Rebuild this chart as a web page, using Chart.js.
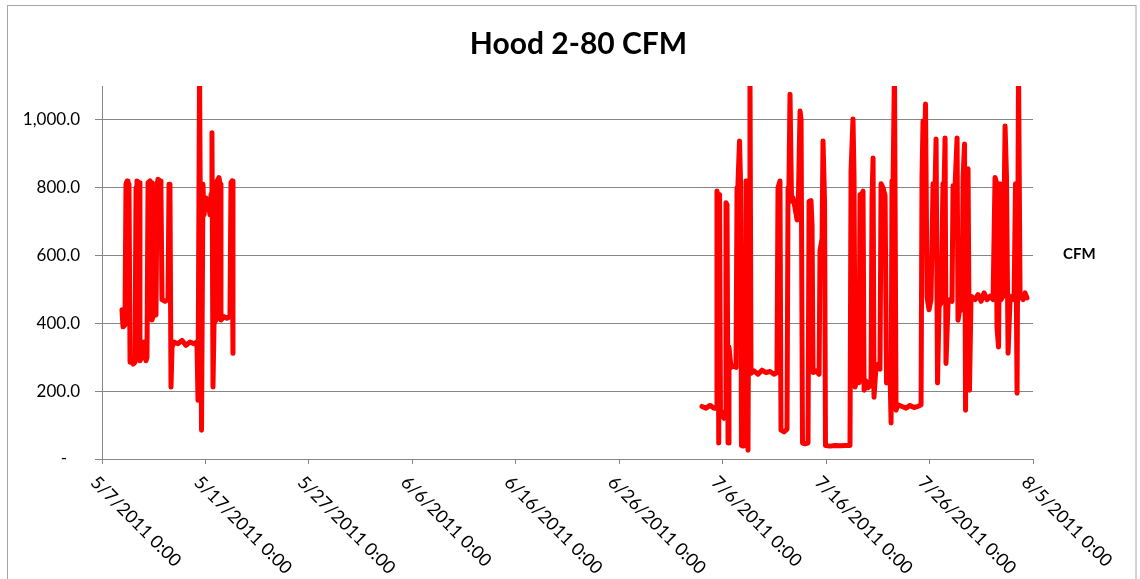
<!DOCTYPE html>
<html>
<head>
<meta charset="utf-8">
<script src="https://cdn.jsdelivr.net/npm/chart.js@4.4.1/dist/chart.umd.min.js"></script>
<style>
  html, body { margin: 0; padding: 0; background: #ffffff; }
  #wrap { width: 1140px; height: 579px; position: relative; }
</style>
</head>
<body>
<div id="wrap"><canvas id="c" width="1140" height="579"></canvas></div>
<script>
// ---- data (x = days since 5/7/2011 0:00, y = CFM) ----
const chartTitle = 'Hood 2-80 CFM';
const seriesName = 'CFM';
const tickLabels = ['5/7/2011 0:00', '5/17/2011 0:00', '5/27/2011 0:00', '6/6/2011 0:00', '6/16/2011 0:00',
  '6/26/2011 0:00', '7/6/2011 0:00', '7/16/2011 0:00', '7/26/2011 0:00', '8/5/2011 0:00'];

const mayDays = [1.93, 2.03, 2.22, 2.32, 2.42, 2.51, 2.61, 2.71, 2.80, 3.00, 3.19, 3.29, 3.38, 3.58, 3.67, 3.87, 4.06, 4.25, 4.35,
  4.45, 4.64, 4.74, 4.83, 5.03, 5.22, 5.32, 5.41, 5.61, 5.70, 5.80, 6.09, 6.38, 6.48, 6.57, 6.67, 6.77, 6.96, 7.35, 7.73, 8.12,
  8.51, 8.89, 9.18, 9.28, 9.43, 9.62, 9.76, 9.86, 10.05, 10.25, 10.44, 10.54, 10.63, 10.73, 10.83, 11.02, 11.12, 11.31, 11.41,
  11.50, 11.79, 12.08, 12.37, 12.47, 12.57, 12.66];
const mayCfm = [440, 390, 395, 810, 820, 815, 810, 285, 290, 280, 285, 800, 820, 815, 290, 300, 345, 290, 300,
  815, 820, 815, 410, 430, 425, 815, 825, 820, 800, 470, 465, 470, 810, 800, 212, 330, 345, 340, 350, 335,
  345, 340, 345, 173, 1150, 85, 810, 720, 770, 760, 720, 780, 962, 212, 400, 410, 820, 830, 810,
  410, 420, 415, 420, 815, 820, 312];

const julDays = [58.00, 58.39, 58.78, 59.16, 59.36, 59.45, 59.55, 59.62, 59.70, 59.79, 59.94, 60.13, 60.23, 60.32, 60.42, 60.52,
  60.61, 60.81, 61.00, 61.29, 61.39, 61.48, 61.63, 61.73, 61.82, 61.97, 62.16, 62.26, 62.35, 62.45, 62.55, 62.64, 62.74, 63.03,
  63.42, 63.80, 64.19, 64.58, 64.96, 65.25, 65.35, 65.54, 65.64, 65.93, 66.22, 66.32, 66.41, 66.51, 66.66, 66.80, 67.00, 67.19,
  67.29, 67.48, 67.58, 67.72, 67.96, 68.25, 68.35, 68.54, 68.64, 68.74, 69.02, 69.32, 69.41, 69.61, 69.70, 69.85, 69.94, 70.38,
  70.86, 71.35, 71.83, 72.31, 72.41, 72.60, 72.70, 72.80, 72.99, 73.18, 73.28, 73.47, 73.57, 73.67, 73.86, 74.05, 74.25, 74.34,
  74.44, 74.54, 74.63, 74.83, 75.02, 75.21, 75.31, 75.50, 75.70, 75.84, 75.99, 76.18, 76.28, 76.37, 76.47, 76.61, 76.76, 76.95,
  77.34, 77.73, 78.11, 78.50, 78.89, 79.18, 79.27, 79.37, 79.47, 79.61, 79.76, 79.95, 80.14, 80.34, 80.53, 80.63, 80.77, 80.92,
  81.11, 81.30, 81.40, 81.50, 81.59, 81.79, 81.98, 82.17, 82.27, 82.46, 82.66, 82.75, 82.95, 83.14, 83.24, 83.38, 83.48, 83.62,
  83.72, 83.86, 84.01, 84.40, 84.69, 84.98, 85.27, 85.56, 85.85, 86.14, 86.33, 86.43, 86.52, 86.67, 86.81, 86.91, 87.10, 87.30,
  87.44, 87.59, 87.78, 87.97, 88.17, 88.31, 88.46, 88.60, 88.75, 89.04, 89.23, 89.42];
const julCfm = [155, 150, 158, 150, 150, 790, 770, 47, 780, 124, 130, 120, 140, 756, 750, 47,
  330, 270, 275, 270, 800, 812, 938, 812, 40, 38, 40, 820, 810, 26, 800, 1150, 253, 260,
  250, 262, 255, 258, 250, 255, 800, 820, 85, 80, 88, 800, 812, 1076, 760, 770, 740, 705,
  720, 1026, 1000, 47, 45, 47, 760, 762, 690, 255, 260, 250, 615, 650, 938, 760, 40, 38,
  40, 39, 40, 40, 850, 1003, 830, 212, 240, 225, 780, 782, 790, 203, 230, 210, 220, 215,
  770, 888, 182, 275, 280, 265, 812, 800, 776, 224, 260, 255, 106, 820, 810, 1150, 144, 160,
  155, 150, 158, 152, 155, 160, 830, 997, 820, 1047, 477, 440, 470, 812, 800, 944, 224, 450,
  460, 812, 800, 947, 282, 460, 470, 465, 806, 800, 947, 409, 450, 440, 830, 929, 144, 820,
  856, 203, 480, 470, 485, 465, 490, 470, 480, 470, 830, 820, 388, 330, 812, 470, 480, 982,
  830, 312, 470, 480, 470, 812, 194, 1150, 480, 470, 490, 475];

const yMin = 0, yMax = 1100, yStep = 200;
const xMin = 0, xMax = 90, xStep = 10;

// ---- build points (null gap between the two logging periods) ----
const points = [];
mayDays.forEach((d, i) => points.push({ x: d, y: mayCfm[i] }));
points.push({ x: 35, y: null });
julDays.forEach((d, i) => points.push({ x: d, y: julCfm[i] }));

const FONT = 'Lato, "Open Sans", "DejaVu Sans", sans-serif';
const GRID = '#868686';

const framePlugin = {
  id: 'frame',
  beforeDraw(chart) {
    const ctx = chart.ctx;
    ctx.save();
    ctx.fillStyle = '#ffffff';
    ctx.fillRect(0, 0, chart.width, chart.height);
    ctx.strokeStyle = '#a6a6a6';
    ctx.lineWidth = 1;
    ctx.strokeRect(7.5, 5.5, chart.width - 4 - 7.5, chart.height + 20);
    ctx.restore();
  },
  afterDraw(chart) {
    const ctx = chart.ctx;
    const xs = chart.scales.x;
    ctx.save();
    // rotated date labels (clockwise, starting at each tick)
    ctx.font = '18px ' + FONT;
    ctx.fillStyle = '#000000';
    ctx.textAlign = 'left';
    ctx.textBaseline = 'top';
    xs.ticks.forEach((t) => {
      const idx = Math.round((t.value - xMin) / xStep);
      const label = tickLabels[idx];
      if (label === undefined) return;
      const px = xs.getPixelForValue(t.value);
      ctx.save();
      ctx.translate(px - 2, xs.top + 14);
      ctx.rotate(Math.PI / 4);
      ctx.fillText(label, 0, 0);
      ctx.restore();
    });
    // legend text
    const ca = chart.chartArea;
    ctx.font = 'bold 15px ' + FONT;
    ctx.textBaseline = 'middle';
    ctx.fillText(seriesName, ca.right + 30, 254);
    ctx.restore();
  }
};

new Chart(document.getElementById('c'), {
  type: 'line',
  data: {
    datasets: [{
      label: seriesName,
      data: points,
      borderColor: '#ff0000',
      backgroundColor: '#ff0000',
      borderWidth: 5,
      borderJoinStyle: 'round',
      borderCapStyle: 'round',
      pointRadius: 0,
      tension: 0,
      spanGaps: false,
      fill: false,
      yAxisID: 'y'
    }]
  },
  options: {
    responsive: false,
    animation: false,
    devicePixelRatio: 1,
    layout: { padding: { left: 17, right: 0, top: 0, bottom: 0 } },
    plugins: {
      legend: { display: false },
      tooltip: { enabled: false },
      title: {
        display: true,
        text: chartTitle,
        color: '#000000',
        font: { family: FONT, size: 30, weight: 'bold' },
        padding: { top: 26, bottom: 24 }
      }
    },
    scales: {
      x: {
        type: 'linear',
        min: xMin,
        max: xMax,
        grid: { drawOnChartArea: false, drawTicks: true, tickLength: 5, color: GRID },
        border: { display: true, color: GRID, width: 1 },
        ticks: { display: false, stepSize: xStep, callback: (v) => tickLabels[Math.round(v / xStep)] },
        afterFit(s) { s.height = 120; }
      },
      y: {
        type: 'linear',
        position: 'left',
        min: yMin,
        max: yMax,
        grid: { color: GRID, tickLength: 7, drawTicks: true },
        border: { display: true, color: GRID, width: 1 },
        ticks: {
          stepSize: yStep,
          includeBounds: false,
          padding: 15,
          color: '#000000',
          font: { family: FONT, size: 17 },
          callback: (v) => v === 0 ? '-   ' : v.toLocaleString('en-US', { minimumFractionDigits: 1, maximumFractionDigits: 1 })
        },
        afterFit(s) { s.width = 85; }
      },
      legendSpace: {
        type: 'linear',
        position: 'right',
        display: true,
        grid: { display: false, drawTicks: false },
        border: { display: false },
        ticks: { display: false },
        afterFit(s) { s.width = 107; }
      }
    }
  },
  plugins: [framePlugin]
});
</script>
</body>
</html>
